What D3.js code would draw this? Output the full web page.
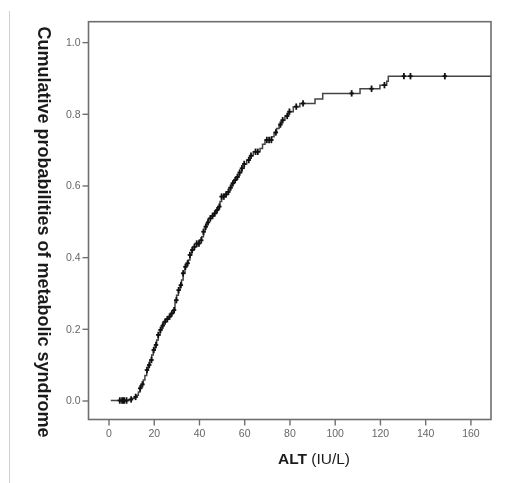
<!DOCTYPE html>
<html lang="en">
<head>
    <style>
    body { margin: 0; background: #fff; }
    svg { display: block; filter: blur(0.45px); }
    </style>
    <title>d3.js</title>
</head>
<body><script src="https://d3js.org/d3.v7.min.js"></script>
<div id="hi">
</div>
<script>
// cumulative curve corners (ALT, probability)
const stepX = [1, 9, 10.5, 11.5, 12.4, 13.2, 13.9, 14.6, 15.4, 16.1, 16.9, 17.6, 18.3, 19.1, 19.8,
    20.6, 21.3, 22, 22.8, 23.5, 24.2, 25.3, 26.4, 27.5, 28.7, 29.4, 30.1, 30.9, 31.6, 32.3,
    33, 33.8, 34.5, 35.3, 36, 36.8, 37.9, 39, 40.1, 41.2, 42, 42.7, 43.4, 44.1, 45.2,
    46.3, 47.4, 48.6, 49.3, 50, 51.1, 52.2, 53.3, 54.4, 55.5, 56.6, 57.7, 58.9, 60, 61.1,
    62.5, 64, 67, 68.1, 69.2, 72.1, 73.2, 74.3, 75.4, 76.5, 78, 79.5, 81.7, 84.6, 91.3,
    94.7, 111.2, 120, 123, 123.7, 169];
const stepY = [0, 0.003, 0.006, 0.01, 0.015, 0.024, 0.034, 0.045, 0.057, 0.07, 0.085, 0.099, 0.113, 0.127, 0.141,
    0.155, 0.169, 0.183, 0.197, 0.209, 0.22, 0.227, 0.234, 0.243, 0.252, 0.28, 0.294, 0.308, 0.322, 0.336,
    0.355, 0.373, 0.383, 0.392, 0.406, 0.42, 0.429, 0.438, 0.447, 0.457, 0.471, 0.485, 0.497, 0.508, 0.515,
    0.522, 0.531, 0.541, 0.555, 0.569, 0.575, 0.582, 0.594, 0.606, 0.615, 0.624, 0.636, 0.648, 0.66, 0.671,
    0.683, 0.694, 0.703, 0.715, 0.727, 0.736, 0.748, 0.759, 0.77, 0.782, 0.794, 0.806, 0.82, 0.829, 0.841,
    0.857, 0.87, 0.88, 0.891, 0.905, 0.905];
// censored observations (ALT)
const censorX = [5, 6, 6.5, 7, 8, 10, 12, 14, 15, 17, 18, 19, 20, 21, 22, 23, 24, 25, 26, 27, 28, 29,
    30, 31, 32, 33, 34, 35, 36, 37, 38, 39, 40, 41, 42, 43, 44, 45, 46, 47, 48, 49, 50, 51, 52,
    53, 54, 55, 56, 57, 58, 59, 60, 62, 63, 65, 66, 70, 71, 72, 74, 76, 77, 79, 80, 83, 86,
    107.5, 116.3, 122, 130.6, 133.5, 148.7];
const xTicks = [0, 20, 40, 60, 80, 100, 120, 140, 160];
const yTicks = [0, 0.2, 0.4, 0.6, 0.8, 1.0];

const w = 525;
const h = 483;

const svg = d3.select("#hi")
    .append("svg")
    .attr("width", w)
    .attr("height", h);

// plot frame
const fL = 88.5, fR = 491, fT = 21.7, fB = 419.5;

const x = d3.scaleLinear().domain([-8.84, 169.1]).range([fL, fR]);
const y = d3.scaleLinear().domain([-0.053, 1.057]).range([fB, fT]);

// thin page border on the left
svg.append("line")
    .attr("x1", 9.5).attr("x2", 9.5)
    .attr("y1", 11).attr("y2", h)
    .attr("stroke", "#d0d0d0")
    .attr("stroke-width", 1);

svg.append("rect")
    .attr("x", fL).attr("y", fT)
    .attr("width", fR - fL).attr("height", fB - fT)
    .attr("fill", "none")
    .attr("stroke", "#6e6e6e")
    .attr("stroke-width", 1.6);

const xAxis = svg.append("g")
    .attr("transform", "translate(0," + fB + ")")
    .call(d3.axisBottom(x).tickValues(xTicks).tickSize(6).tickPadding(4).tickFormat(d3.format("d")));
const yAxis = svg.append("g")
    .attr("transform", "translate(" + fL + ",0)")
    .call(d3.axisLeft(y).tickValues(yTicks).tickSize(6).tickPadding(2).tickFormat(d3.format(".1f")));

[xAxis, yAxis].forEach(function(g) {
    g.select(".domain").remove();
    g.selectAll(".tick line").attr("stroke", "#6e6e6e").attr("stroke-width", 1.4);
    g.selectAll(".tick text")
        .attr("fill", "#666")
        .style("font-family", "Liberation Sans, Arial, sans-serif")
        .style("font-size", "10.5px");
});

const pts = stepX.map(function(d, i) { return [d, stepY[i]]; });

svg.append("path")
    .datum(pts)
    .attr("fill", "none")
    .attr("stroke", "#444")
    .attr("stroke-width", 1.5)
    .attr("d", d3.line()
        .x(function(d) { return x(d[0]); })
        .y(function(d) { return y(d[1]); })
        .curve(d3.curveStepAfter));

// value of the step curve at a given ALT
function at(v) {
    const i = d3.bisectRight(stepX, v) - 1;
    return stepY[Math.max(0, i)];
}

const marks = svg.append("g")
    .attr("stroke", "#111")
    .attr("stroke-width", 1.8);
censorX.forEach(function(v) {
    const cx = x(v), cy = y(at(v));
    marks.append("line").attr("x1", cx).attr("x2", cx).attr("y1", cy - 3.2).attr("y2", cy + 3.2);
    marks.append("line").attr("x1", cx - 2.2).attr("x2", cx + 2.2).attr("y1", cy).attr("y2", cy);
});

svg.append("text")
    .attr("x", 314)
    .attr("y", 464)
    .attr("text-anchor", "middle")
    .style("font-family", "Liberation Sans, Arial, sans-serif")
    .style("font-size", "15.5px")
    .attr("fill", "#1a1a1a")
    .call(function(t) {
        t.append("tspan").style("font-weight", "bold").text("ALT");
        t.append("tspan").text(" (IU/L)");
    });

svg.append("text")
    .attr("transform", "translate(44,232) rotate(90)")
    .attr("text-anchor", "middle")
    .attr("dominant-baseline", "central")
    .style("font-family", "Liberation Sans, Arial, sans-serif")
    .style("font-size", "18px")
    .style("font-weight", "bold")
    .attr("fill", "#1a1a1a")
    .text("Cumulative probabilities of metabolic syndrome");
</script>
</body>
</html>
